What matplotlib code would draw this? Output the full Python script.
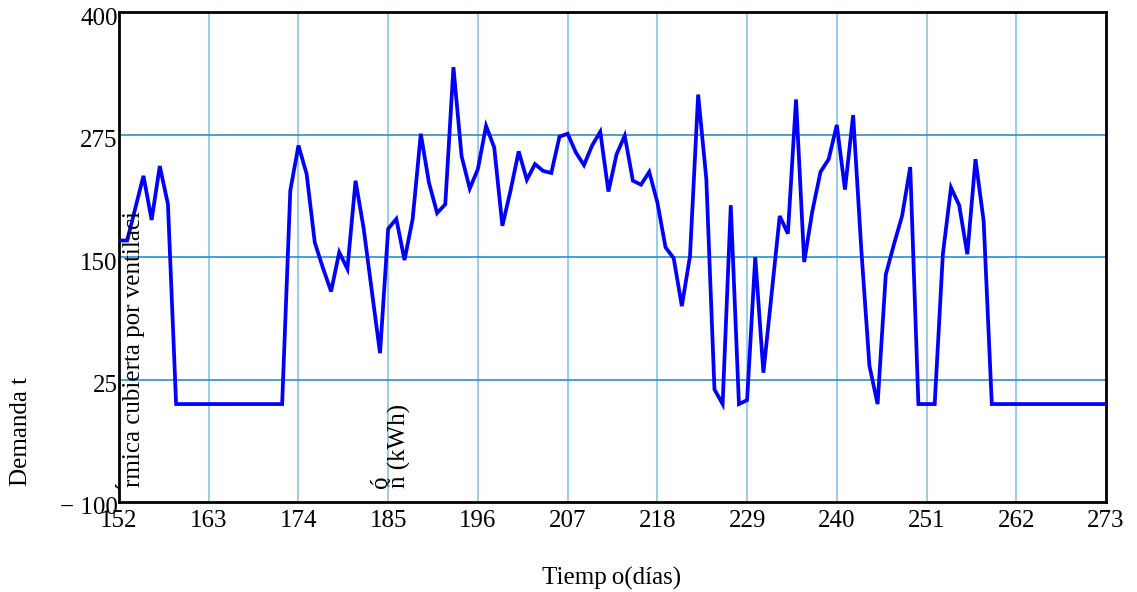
import matplotlib
matplotlib.use("Agg")
import matplotlib.pyplot as plt
import matplotlib.transforms as mtransforms

# Daily thermal demand covered by ventilation, days 152..273
days = list(range(152, 274))
demand = (
    [167, 167, 200, 233, 188, 243, 204]            # 152-158
    + [0] * 13                                      # 159-171
    + [0, 218, 264, 235, 165, 139, 115, 155, 138,   # 172-180
       228, 179, 115, 52, 179, 189, 147, 189, 276,  # 181-189
       226, 195, 204, 344, 253, 220, 240, 284, 262, # 190-198
       182, 218, 258, 229, 245, 238, 236, 273, 276, # 199-207
       257, 244, 264, 278, 217, 255, 274, 228, 224, # 208-216
       237, 206, 160, 149, 100, 151, 316, 230, 15,  # 217-225
       0, 203, 0, 4, 150, 32, 112, 192, 174,        # 226-234
       311, 145, 197, 237, 250, 285, 219, 295, 158, # 235-243
       39, 0, 132, 163, 192, 242, 0, 0, 0,          # 244-252
       153, 221, 203, 153, 250, 187]                # 253-258
    + [0] * 15                                      # 259-273
)

x_ticks = [152, 163, 174, 185, 196, 207, 218, 229, 240, 251, 262, 273]
y_ticks = [-100, 25, 150, 275, 400]
y_tick_labels = ["\u2212 100", "25", "150", "275", "400"]

plt.rcParams["font.family"] = ["Liberation Serif", "DejaVu Serif"]

fig = plt.figure(figsize=(11.37, 5.92), dpi=100)
ax = fig.add_axes([119 / 1137, 1 - 502 / 592, (1106 - 119) / 1137, (502 - 12.3) / 592])

ax.plot(days, demand, color="#0000ff", linewidth=2.7, solid_joinstyle="miter", zorder=3)

ax.set_xlim(152, 273)
ax.set_ylim(-100, 400)
ax.set_xticks(x_ticks)
ax.set_yticks(y_ticks)
ax.set_yticklabels(y_tick_labels)

for xv in x_ticks[1:-1]:
    ax.axvline(xv, color="#7fc0e0", linewidth=1.1, zorder=1)
for yv in y_ticks[1:-1]:
    ax.axhline(yv, color="#1a88c8", linewidth=1.1, zorder=1)

ax.tick_params(axis="both", length=0, labelsize=18)
ax.tick_params(axis="x", pad=6)
ax.tick_params(axis="y", pad=1)
offset = mtransforms.ScaledTranslation(0, -4 / 100, fig.dpi_scale_trans)
for lab in ax.get_yticklabels():
    lab.set_transform(lab.get_transform() + offset)

for sp in ax.spines.values():
    sp.set_linewidth(2)
    sp.set_color("black")

fig.text(612 / 1137, 1 - 578 / 592, "Tiemp\u2009o(días)", ha="center", va="center", fontsize=18)

# Axis title, drawn in pieces
fig.text(21 / 1137, 1 - 486 / 592, "Demanda t", rotation=90, ha="center", va="bottom", fontsize=18)
fig.text(134 / 1137, 1 - 487 / 592, "rmica cubierta por ventilaci", rotation=90,
         ha="center", va="bottom", fontsize=18)
fig.text(126 / 1137, 1 - 489 / 592, "\u00b4", rotation=90, ha="center", va="bottom", fontsize=18)
fig.text(381 / 1137, 1 - 488 / 592, "ó", rotation=90, ha="center", va="bottom", fontsize=18)
fig.text(399 / 1137, 1 - 488 / 592, "ñ (kWh)", rotation=90, ha="center", va="bottom", fontsize=18)

fig.savefig("out.png", dpi=100, facecolor="white")
